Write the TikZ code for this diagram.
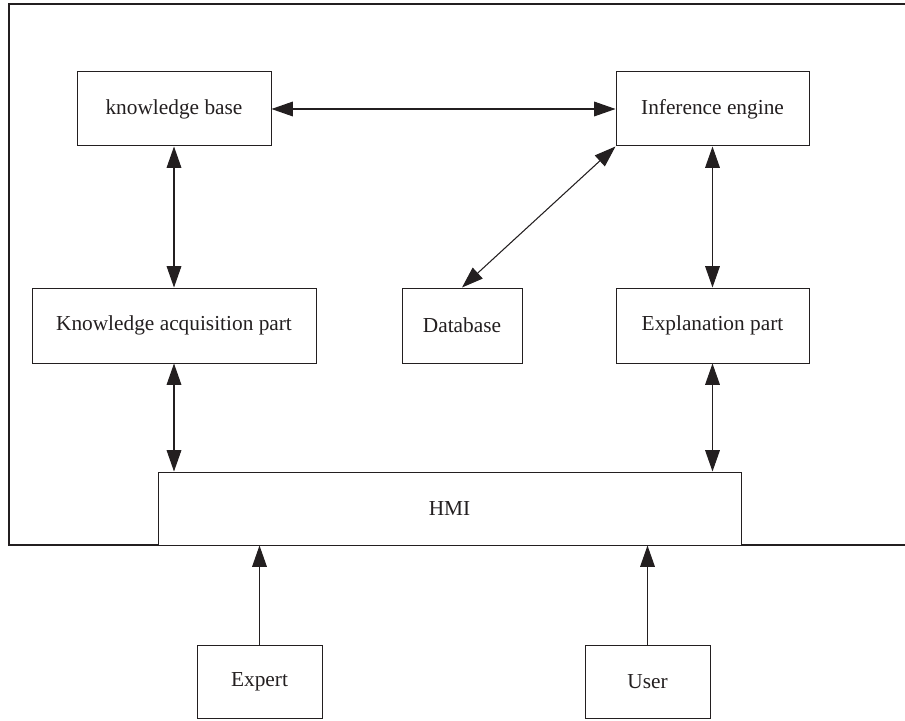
\documentclass[tikz,border=0pt]{standalone}
\usepackage{fontspec}
\setmainfont{Liberation Serif}
\usetikzlibrary{arrows.meta}

\definecolor{inkgray}{RGB}{35,31,32}
\tikzset{every picture/.style={line width=0.75pt}}
\tikzset{
  blockbox/.style={draw=inkgray, rectangle, inner sep=0pt, align=center,
    text=inkgray, font=\fontsize{16}{19}\selectfont},
  link/.style={draw=inkgray, line width=0.8pt,
    {Triangle[length=16pt,width=11pt]}-{Triangle[length=16pt,width=11pt]}},
  feed/.style={draw=inkgray, line width=0.8pt, -{Triangle[length=16pt,width=11pt]}}
}

\begin{document}
\begin{tikzpicture}[x=0.75pt,y=0.75pt,yscale=-1,xscale=1]
\useasboundingbox (0,0) rectangle (905,720);

%Outer frame (right side runs off the page)
\draw [draw=inkgray, line width=0.9pt] (905,4) -- (9,4) -- (9,545) -- (905,545) ;

% Text Node
\node [blockbox, minimum width=145.5pt, minimum height=55.5pt] (kbase) at (174,109) {knowledge base};
% Text Node
\node [blockbox, minimum width=144.75pt, minimum height=55.5pt] (infer) at (712.5,109) {Inference engine};
% Text Node
\node [blockbox, minimum width=213pt, minimum height=56.25pt] (kacq) at (174,325.5) {Knowledge acquisition part};
% Text Node
\node [blockbox, minimum width=90pt, minimum height=56.25pt] (dbase) at (462,325.5) {Database};
% Text Node
\node [blockbox, minimum width=144.75pt, minimum height=56.25pt] (expl) at (712.5,325.5) {Explanation part};
% Text Node
\node [blockbox, fill=white, minimum width=437.25pt, minimum height=54.75pt] (hmi) at (449.5,508.5) {HMI};
% Text Node
\node [blockbox, minimum width=93.75pt, minimum height=54.75pt] (expert) at (259.5,681.5) {Expert};
% Text Node
\node [blockbox, minimum width=93.75pt, minimum height=54.75pt] (user) at (647.5,681.5) {User};

%Straight Lines
\draw [link] (kbase.east) -- (infer.west) ;
\draw [link] (kbase.south) -- (kacq.north) ;
\draw [link] (infer.south) -- (expl.north) ;
\draw [link] (infer.south west) -- (dbase.north) ;
\draw [link] (kacq.south) -- (kacq.south |- hmi.north) ;
\draw [link] (expl.south) -- (expl.south |- hmi.north) ;
\draw [feed] (expert.north) -- (expert.north |- hmi.south) ;
\draw [feed] (user.north) -- (user.north |- hmi.south) ;

\end{tikzpicture}
\end{document}
